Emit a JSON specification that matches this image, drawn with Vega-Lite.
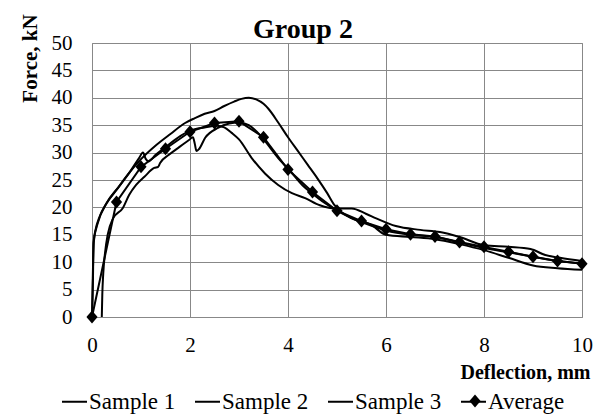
{
  "$schema": "https://vega.github.io/schema/vega-lite/v6.json",
  "width": 490,
  "height": 274,
  "autosize": {"type": "none"},
  "padding": {"left": 92, "top": 43, "right": 24, "bottom": 102},
  "background": "white",
  "title": {"text": "Group 2", "font": "Liberation Serif", "fontSize": 28, "fontWeight": "bold", "color": "black", "anchor": "middle", "dx": -34, "dy": 60, "offset": 8, "baseline": "alphabetic"},
  "data": {"values": [
    {"series": "Sample 1", "x": 0, "y": 0},
    {"series": "Sample 1", "x": 0.02, "y": 7},
    {"series": "Sample 1", "x": 0.03, "y": 13.5},
    {"series": "Sample 1", "x": 0.08, "y": 16.2},
    {"series": "Sample 1", "x": 0.15, "y": 18.2},
    {"series": "Sample 1", "x": 0.3, "y": 20.8},
    {"series": "Sample 1", "x": 0.5, "y": 23.2},
    {"series": "Sample 1", "x": 0.75, "y": 26.2},
    {"series": "Sample 1", "x": 1.0, "y": 28.8},
    {"series": "Sample 1", "x": 1.3, "y": 31.3},
    {"series": "Sample 1", "x": 1.6, "y": 33.4},
    {"series": "Sample 1", "x": 1.9, "y": 35.4},
    {"series": "Sample 1", "x": 2.1, "y": 36.3},
    {"series": "Sample 1", "x": 2.3, "y": 37.1},
    {"series": "Sample 1", "x": 2.5, "y": 37.6},
    {"series": "Sample 1", "x": 2.7, "y": 38.5},
    {"series": "Sample 1", "x": 2.9, "y": 39.3},
    {"series": "Sample 1", "x": 3.05, "y": 39.8},
    {"series": "Sample 1", "x": 3.2, "y": 40.0},
    {"series": "Sample 1", "x": 3.35, "y": 39.7},
    {"series": "Sample 1", "x": 3.5, "y": 38.9},
    {"series": "Sample 1", "x": 3.6, "y": 38.0},
    {"series": "Sample 1", "x": 3.8, "y": 35.5},
    {"series": "Sample 1", "x": 4.0, "y": 32.8},
    {"series": "Sample 1", "x": 4.2, "y": 30.3},
    {"series": "Sample 1", "x": 4.4, "y": 27.8},
    {"series": "Sample 1", "x": 4.6, "y": 25.3},
    {"series": "Sample 1", "x": 4.8, "y": 22.6},
    {"series": "Sample 1", "x": 4.95, "y": 20.4},
    {"series": "Sample 1", "x": 5.08, "y": 19.2},
    {"series": "Sample 1", "x": 5.3, "y": 18.0},
    {"series": "Sample 1", "x": 5.7, "y": 16.8},
    {"series": "Sample 1", "x": 6.0, "y": 15.0},
    {"series": "Sample 1", "x": 6.5, "y": 14.6},
    {"series": "Sample 1", "x": 7.0, "y": 14.2},
    {"series": "Sample 1", "x": 7.5, "y": 13.3},
    {"series": "Sample 1", "x": 8.0, "y": 12.2},
    {"series": "Sample 1", "x": 8.5, "y": 10.8},
    {"series": "Sample 1", "x": 9.0, "y": 9.4},
    {"series": "Sample 1", "x": 9.5, "y": 8.9},
    {"series": "Sample 1", "x": 10.0, "y": 8.6},
    {"series": "Sample 2", "x": 0, "y": 0},
    {"series": "Sample 2", "x": 0.02, "y": 9},
    {"series": "Sample 2", "x": 0.04, "y": 14},
    {"series": "Sample 2", "x": 0.12, "y": 17.2},
    {"series": "Sample 2", "x": 0.3, "y": 20.8},
    {"series": "Sample 2", "x": 0.55, "y": 23.8},
    {"series": "Sample 2", "x": 0.76, "y": 26.3},
    {"series": "Sample 2", "x": 0.96, "y": 29.0},
    {"series": "Sample 2", "x": 1.04, "y": 30.0},
    {"series": "Sample 2", "x": 1.1, "y": 28.8},
    {"series": "Sample 2", "x": 1.15, "y": 28.4},
    {"series": "Sample 2", "x": 1.3, "y": 29.6},
    {"series": "Sample 2", "x": 1.5, "y": 31.0},
    {"series": "Sample 2", "x": 1.8, "y": 33.0},
    {"series": "Sample 2", "x": 2.0, "y": 34.0},
    {"series": "Sample 2", "x": 2.3, "y": 34.6},
    {"series": "Sample 2", "x": 2.55, "y": 34.9},
    {"series": "Sample 2", "x": 2.7, "y": 34.6},
    {"series": "Sample 2", "x": 2.85, "y": 33.6},
    {"series": "Sample 2", "x": 3.0, "y": 32.4},
    {"series": "Sample 2", "x": 3.26, "y": 29.0},
    {"series": "Sample 2", "x": 3.53, "y": 26.2},
    {"series": "Sample 2", "x": 3.8, "y": 24.1},
    {"series": "Sample 2", "x": 4.08, "y": 22.6},
    {"series": "Sample 2", "x": 4.35, "y": 21.7},
    {"series": "Sample 2", "x": 4.65, "y": 20.4},
    {"series": "Sample 2", "x": 5.0, "y": 19.8},
    {"series": "Sample 2", "x": 5.3, "y": 19.8},
    {"series": "Sample 2", "x": 5.6, "y": 18.8},
    {"series": "Sample 2", "x": 5.8, "y": 18.0},
    {"series": "Sample 2", "x": 6.2, "y": 16.6},
    {"series": "Sample 2", "x": 6.7, "y": 15.9},
    {"series": "Sample 2", "x": 7.1, "y": 15.5},
    {"series": "Sample 2", "x": 7.5, "y": 14.6},
    {"series": "Sample 2", "x": 8.0, "y": 13.1},
    {"series": "Sample 2", "x": 8.5, "y": 12.8},
    {"series": "Sample 2", "x": 8.95, "y": 12.4},
    {"series": "Sample 2", "x": 9.25, "y": 11.3},
    {"series": "Sample 2", "x": 9.55, "y": 10.8},
    {"series": "Sample 2", "x": 10.0, "y": 10.2},
    {"series": "Sample 3", "x": 0.2, "y": 0},
    {"series": "Sample 3", "x": 0.21, "y": 4},
    {"series": "Sample 3", "x": 0.23, "y": 8},
    {"series": "Sample 3", "x": 0.27, "y": 12},
    {"series": "Sample 3", "x": 0.32, "y": 15},
    {"series": "Sample 3", "x": 0.43, "y": 18},
    {"series": "Sample 3", "x": 0.63, "y": 19.9},
    {"series": "Sample 3", "x": 0.76, "y": 22.3},
    {"series": "Sample 3", "x": 0.9, "y": 24.1},
    {"series": "Sample 3", "x": 1.07, "y": 25.6},
    {"series": "Sample 3", "x": 1.27, "y": 27.2},
    {"series": "Sample 3", "x": 1.35, "y": 27.4},
    {"series": "Sample 3", "x": 1.39, "y": 28.1},
    {"series": "Sample 3", "x": 1.57, "y": 29.6},
    {"series": "Sample 3", "x": 1.78, "y": 31.0},
    {"series": "Sample 3", "x": 1.98, "y": 32.3},
    {"series": "Sample 3", "x": 2.06, "y": 32.8},
    {"series": "Sample 3", "x": 2.1, "y": 31.5},
    {"series": "Sample 3", "x": 2.13, "y": 30.3},
    {"series": "Sample 3", "x": 2.18, "y": 30.6},
    {"series": "Sample 3", "x": 2.31, "y": 32.7},
    {"series": "Sample 3", "x": 2.57, "y": 34.5},
    {"series": "Sample 3", "x": 2.8, "y": 35.3},
    {"series": "Sample 3", "x": 3.0, "y": 35.5},
    {"series": "Sample 3", "x": 3.2, "y": 35.0},
    {"series": "Sample 3", "x": 3.45, "y": 33.0},
    {"series": "Sample 3", "x": 3.6, "y": 31.3},
    {"series": "Sample 3", "x": 3.8, "y": 29.0},
    {"series": "Sample 3", "x": 4.05, "y": 26.6},
    {"series": "Sample 3", "x": 4.3, "y": 24.0},
    {"series": "Sample 3", "x": 4.5, "y": 22.5},
    {"series": "Sample 3", "x": 4.75, "y": 20.8},
    {"series": "Sample 3", "x": 5.0, "y": 19.4},
    {"series": "Sample 3", "x": 5.5, "y": 17.3},
    {"series": "Sample 3", "x": 6.0, "y": 15.8},
    {"series": "Sample 3", "x": 6.5, "y": 15.0},
    {"series": "Sample 3", "x": 7.0, "y": 14.6},
    {"series": "Sample 3", "x": 7.5, "y": 13.6},
    {"series": "Sample 3", "x": 8.0, "y": 12.6},
    {"series": "Sample 3", "x": 8.5, "y": 11.8},
    {"series": "Sample 3", "x": 9.0, "y": 11.0},
    {"series": "Sample 3", "x": 9.5, "y": 10.2},
    {"series": "Sample 3", "x": 10.0, "y": 9.8},
    {"series": "Average", "x": 0, "y": 0},
    {"series": "Average", "x": 0.5, "y": 21.0},
    {"series": "Average", "x": 1.0, "y": 27.4},
    {"series": "Average", "x": 1.5, "y": 30.7},
    {"series": "Average", "x": 2.0, "y": 33.8},
    {"series": "Average", "x": 2.5, "y": 35.4},
    {"series": "Average", "x": 3.0, "y": 35.7},
    {"series": "Average", "x": 3.5, "y": 32.8},
    {"series": "Average", "x": 4.0, "y": 26.9},
    {"series": "Average", "x": 4.5, "y": 22.8},
    {"series": "Average", "x": 5.0, "y": 19.4},
    {"series": "Average", "x": 5.5, "y": 17.5},
    {"series": "Average", "x": 6.0, "y": 16.0},
    {"series": "Average", "x": 6.5, "y": 15.1},
    {"series": "Average", "x": 7.0, "y": 14.7},
    {"series": "Average", "x": 7.5, "y": 13.7},
    {"series": "Average", "x": 8.0, "y": 12.8},
    {"series": "Average", "x": 8.5, "y": 11.9},
    {"series": "Average", "x": 9.0, "y": 11.0},
    {"series": "Average", "x": 9.5, "y": 10.2},
    {"series": "Average", "x": 10.0, "y": 9.7}
  ]},
  "encoding": {
    "x": {"field": "x", "type": "quantitative", "scale": {"domain": [0, 10], "nice": false},
      "axis": {"values": [0, 2, 4, 6, 8, 10], "labelFlush": false, "labelPadding": 17, "labelOverlap": false,
        "title": "Deflection, mm", "titleFontSize": 20, "titleAnchor": "end", "titleAlign": "right", "titleX": 498, "titleY": 61, "titleBaseline": "alphabetic"}},
    "y": {"field": "y", "type": "quantitative", "scale": {"domain": [0, 50], "nice": false},
      "axis": {"values": [0, 5, 10, 15, 20, 25, 30, 35, 40, 45, 50], "labelPadding": 20, "labelOverlap": false,
        "title": "Force, kN", "titleFontSize": 21, "titleAngle": -90, "titleX": -62, "titleY": 15, "titleAlign": "center", "titleBaseline": "middle"}}
  },
  "layer": [
    {
      "mark": {"type": "line", "strokeWidth": 2, "interpolate": "monotone"},
      "transform": [{"filter": "datum.series !== 'Average'"}],
      "encoding": {
        "color": {"field": "series", "type": "nominal",
          "scale": {"domain": ["Sample 1", "Sample 2", "Sample 3", "Average"], "range": ["black", "black", "black", "black"]},
          "legend": {"orient": "none", "legendX": -31, "legendY": 345, "direction": "horizontal", "title": null,
            "values": ["Sample 1", "Sample 2", "Sample 3", "Average"], "symbolType": "stroke", "symbolSize": 625, "symbolStrokeWidth": 2,
            "symbolStrokeColor": "black", "labelOffset": 1, "columnPadding": 15, "padding": 0}}
      }
    },
    {
      "mark": {"type": "line", "strokeWidth": 2, "color": "black"},
      "transform": [{"filter": "datum.series === 'Average'"}],
      "encoding": {}
    },
    {
      "mark": {"type": "point", "filled": true, "color": "black", "opacity": 1},
      "transform": [{"filter": "datum.series === 'Average'"}],
      "encoding": {
        "shape": {"field": "series", "type": "nominal",
          "scale": {"domain": ["Average"], "range": ["M0,-0.5L0.43,0L0,0.5L-0.43,0Z"]},
          "legend": {"orient": "none", "legendX": 370, "legendY": 345, "direction": "horizontal", "title": null,
            "symbolSize": 676, "symbolFillColor": "black", "symbolStrokeColor": "black", "symbolStrokeWidth": 0,
            "labelExpr": "''", "labelOffset": 0, "padding": 0}},
        "size": {"value": 676}
      }
    }
  ],
  "config": {
    "font": "Liberation Serif",
    "view": {"stroke": "#888888", "strokeWidth": 1},
    "axis": {"grid": true, "gridColor": "#888888", "gridWidth": 1, "gridOpacity": 1, "domain": false, "ticks": false,
      "labelFont": "Liberation Serif", "labelFontSize": 21, "labelColor": "black",
      "titleFont": "Liberation Serif", "titleFontWeight": "bold", "titleColor": "black"},
    "legend": {"labelFont": "Liberation Serif", "labelFontSize": 23, "labelColor": "black", "labelLimit": 0}
  }
}
